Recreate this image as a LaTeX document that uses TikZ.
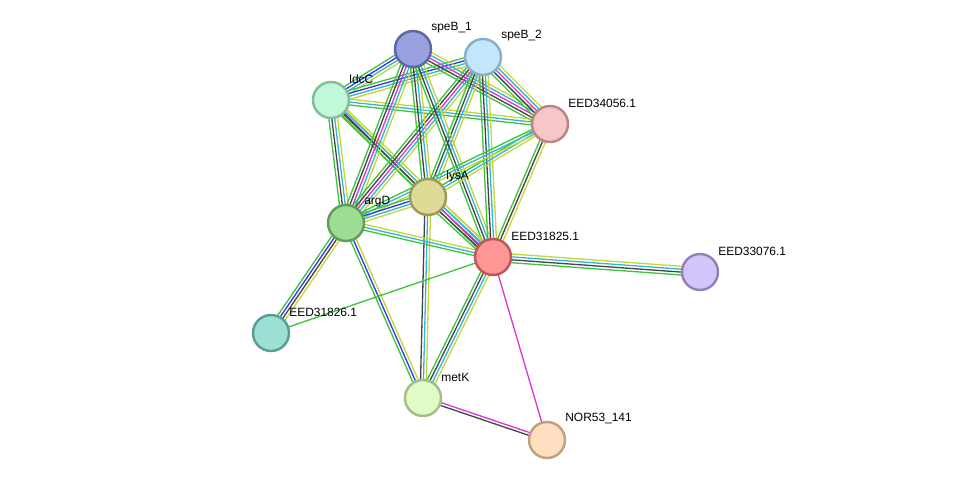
\documentclass[tikz,border=0pt]{standalone}
\usepackage{fontspec}
\setmainfont{Liberation Sans}
\usetikzlibrary{backgrounds,calc}
\definecolor{neighb}{HTML}{3CC43C}
\definecolor{cooccur}{HTML}{3535F2}
\definecolor{coexpr}{HTML}{454545}
\definecolor{exper}{HTML}{D637D6}
\definecolor{dbase}{HTML}{33B5D9}
\definecolor{txtmine}{HTML}{C4D63A}
\tikzset{
  prot/.style={circle,draw,line width=1.4pt,minimum size=0.72cm,inner sep=0pt},
  lbl/.style={anchor=west,inner sep=0pt,font=\fontsize{6.8}{8}\selectfont,xshift=0.36cm,yshift=0.42cm},
  strline/.style={line width=0.75pt}
}
% one line per evidence channel, side by side
\newcommand{\plink}[3]{%
  \foreach \c [count=\i] in {#3} {\xdef\nlines{\i}}%
  \foreach \c [count=\i] in {#3} {%
    \pgfmathsetmacro\off{(\i-(\nlines+1)/2)*1.65}%
    \draw[\c,strline] ($(#1)!\off pt!90:(#2)$) -- ($(#2)!\off pt!-90:(#1)$);
  }%
}
\begin{document}
\begin{tikzpicture}[x=0.02cm,y=-0.02cm]
\useasboundingbox (0,0) rectangle (975,486);
% proteins
\node[prot,fill={rgb,255:red,153;green,162;blue,223},draw={rgb,255:red,92;green,103;blue,166}] (spbA) at (413,49) {};
\node[prot,fill={rgb,255:red,194;green,230;blue,250},draw={rgb,255:red,135;green,174;blue,202}] (spbB) at (483,57) {};
\node[prot,fill={rgb,255:red,194;green,248;blue,218},draw={rgb,255:red,130;green,189;blue,156}] (ldcc) at (331,100) {};
\node[prot,fill={rgb,255:red,247;green,198;blue,198},draw={rgb,255:red,185;green,133;blue,133}] (e34056) at (550,124) {};
\node[prot,fill={rgb,255:red,222;green,219;blue,150},draw={rgb,255:red,156;green,154;blue,88}] (lysa) at (428,197) {};
\node[prot,fill={rgb,255:red,158;green,222;blue,148},draw={rgb,255:red,94;green,158;blue,88}] (argd) at (346,223) {};
\node[prot,fill={rgb,255:red,254;green,150;blue,150},draw={rgb,255:red,194;green,85;blue,85}] (e31825) at (493,257) {};
\node[prot,fill={rgb,255:red,211;green,197;blue,250},draw={rgb,255:red,149;green,128;blue,188}] (e33076) at (700,272) {};
\node[prot,fill={rgb,255:red,157;green,224;blue,213},draw={rgb,255:red,90;green,157;blue,147}] (e31826) at (271,333) {};
\node[prot,fill={rgb,255:red,224;green,251;blue,198},draw={rgb,255:red,165;green,190;blue,135}] (metk) at (423,398) {};
\node[prot,fill={rgb,255:red,254;green,222;blue,192},draw={rgb,255:red,194;green,160;blue,126}] (nor53) at (547,440) {};
% labels
\node[lbl] (spbA-l) at (spbA) {speB\_1};
\node[lbl] (spbB-l) at (spbB) {speB\_2};
\node[lbl] (ldcc-l) at (ldcc) {ldcC};
\node[lbl] (e34056-l) at (e34056) {EED34056.1};
\node[lbl] (lysa-l) at (lysa) {lysA};
\node[lbl] (argd-l) at (argd) {argD};
\node[lbl] (e31825-l) at (e31825) {EED31825.1};
\node[lbl] (e33076-l) at (e33076) {EED33076.1};
\node[lbl] (e31826-l) at (e31826) {EED31826.1};
\node[lbl] (metk-l) at (metk) {metK};
\node[lbl] (nor53-l) at (nor53) {NOR53\_141};
% interactions
\begin{pgfonlayer}{background}
\plink{spbA}{ldcc}{neighb,cooccur,dbase,txtmine}
\plink{spbB}{ldcc}{neighb,cooccur,dbase,txtmine}
\plink{spbA}{e34056}{neighb,coexpr,exper,dbase,txtmine}
\plink{spbB}{e34056}{neighb,coexpr,exper,dbase,txtmine}
\plink{ldcc}{e34056}{neighb,dbase,txtmine}
\plink{ldcc}{argd}{neighb,coexpr,dbase,txtmine}
\plink{ldcc}{lysa}{neighb,coexpr,txtmine}
\plink{ldcc}{e31825}{neighb,coexpr,dbase,txtmine}
\plink{spbA}{argd}{neighb,coexpr,exper,dbase,txtmine}
\plink{spbB}{argd}{neighb,coexpr,exper,dbase,txtmine}
\plink{spbA}{lysa}{neighb,coexpr,dbase,txtmine}
\plink{spbB}{lysa}{neighb,coexpr,dbase,txtmine}
\plink{spbA}{e31825}{neighb,coexpr,dbase,txtmine}
\plink{spbB}{e31825}{neighb,coexpr,dbase,txtmine}
\plink{e34056}{lysa}{neighb,dbase,txtmine}
\plink{e34056}{argd}{neighb,dbase,txtmine}
\plink{e34056}{e31825}{neighb,coexpr,txtmine}
\plink{lysa}{argd}{neighb,cooccur,dbase,txtmine}
\plink{lysa}{e31825}{neighb,coexpr,exper,dbase,txtmine}
\plink{lysa}{metk}{coexpr,dbase,txtmine}
\plink{argd}{e31825}{neighb,dbase,txtmine}
\plink{argd}{e31826}{neighb,cooccur,coexpr,txtmine}
\plink{argd}{metk}{neighb,cooccur,txtmine}
\plink{e31825}{e33076}{neighb,coexpr,dbase,txtmine}
\plink{e31825}{e31826}{neighb}
\plink{e31825}{metk}{neighb,coexpr,dbase,txtmine}
\plink{e31825}{nor53}{exper}
\plink{metk}{nor53}{coexpr,exper}
\end{pgfonlayer}
\end{tikzpicture}
\end{document}
